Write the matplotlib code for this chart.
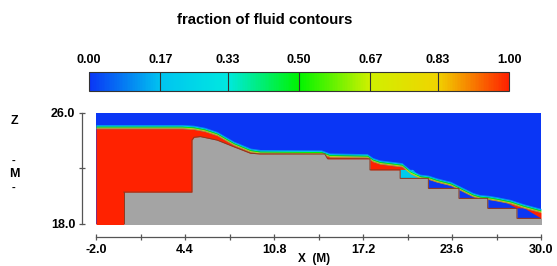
import numpy as np
import matplotlib
matplotlib.use("Agg")
import matplotlib.pyplot as plt
from matplotlib.colors import LinearSegmentedColormap, Normalize
from matplotlib.colorbar import ColorbarBase

plt.rcParams["font.family"] = ["Liberation Sans", "DejaVu Sans"]
plt.rcParams["font.weight"] = "bold"

# ---- data (metres) ----
# stepped spillway bed profile (gray solid below it)
bed_x = [0.0, 0.0, 4.9, 4.9, 5.05, 5.5, 6.7, 7.9, 9.1, 9.8, 14.45, 14.65,
         17.7, 17.7, 19.87, 19.87, 21.9, 21.9, 24.1, 24.1, 26.17, 26.17,
         28.27, 28.27, 30.0]
bed_z = [18.0, 20.3, 20.3, 24.05, 24.25, 24.3, 24.05, 23.57, 23.1, 23.05,
         23.05, 22.7, 22.7, 21.9, 21.9, 21.29, 21.29, 20.57, 20.57, 19.85,
         19.85, 19.13, 19.13, 18.41, 18.41]

# free surface (0.5 contour of fluid fraction)
surf_x = [-2.0, 4.2, 5.0, 5.8, 6.7, 7.9, 9.1, 9.8, 14.2, 14.8, 17.5, 17.9,
          18.4, 19.2, 20.0, 20.6, 21.3, 21.9, 22.5, 23.5, 24.4, 25.1, 25.6,
          26.2, 26.8, 27.8, 28.7, 30.0]
surf_z = [25.0, 25.0, 24.95, 24.8, 24.5, 23.8, 23.3, 23.2, 23.17, 22.95,
          22.9, 22.62, 22.45, 22.35, 22.25, 21.75, 21.42, 21.35, 21.15, 20.9,
          20.45, 20.1, 19.95, 19.9, 19.8, 19.6, 19.3, 18.95]

# air pockets trapped under the nappe on each step
pocket_x0 = [19.87, 21.9, 24.1, 26.17, 28.27]
pocket_x1 = [21.4, 24.1, 25.6, 28.27, 30.0]
pocket_x1_top = [20.8, 22.6, 24.4, 26.9, 28.8]
pocket_z0 = [21.29, 20.57, 19.85, 19.13, 18.41]
pocket_z1 = [21.9, 21.29, 20.57, 19.85, 19.13]
pocket_frac = [0.2, 0.0, 0.0, 0.0, 0.0]

cbar_ticks = [0.0, 0.17, 0.33, 0.50, 0.67, 0.83, 1.0]
cbar_labels = ["0.00", "0.17", "0.33", "0.50", "0.67", "0.83", "1.00"]
x_ticks = [-2.0, 1.2, 4.4, 7.6, 10.8, 14.0, 17.2, 20.4, 23.6, 26.8, 30.0]
x_labels = ["-2.0", "", "4.4", "", "10.8", "", "17.2", "", "23.6", "", "30.0"]
z_ticks = [18.0, 22.0, 26.0]
z_labels = ["18.0", "", "26.0"]

# tecplot-like rainbow
cmap = LinearSegmentedColormap.from_list("tec", [
    (0.0, "#0a36f5"), (0.17, "#00c4f0"), (0.33, "#00e8e0"),
    (0.5, "#00f400"), (0.67, "#d0f000"), (0.83, "#f0d400"),
    (1.0, "#ff2200")])
GRAY = "#a4a4a4"
AXC = "#555555"

W, H = 557, 266
fig = plt.figure(figsize=(W / 100, H / 100), dpi=100)

fig.text(265 / W, 1 - 20 / H, "fraction of fluid contours",
         ha="center", va="center", fontsize=10.7, fontweight="bold")

# ---- colour bar ----
cax = fig.add_axes([89 / W, 1 - 91 / H, 420 / W, 19 / H])
cb = ColorbarBase(cax, cmap=cmap, norm=Normalize(0, 1),
                  orientation="horizontal", ticks=cbar_ticks)
cb.ax.xaxis.set_ticks_position("top")
cb.ax.set_xticklabels(cbar_labels, fontsize=9, fontweight="bold")
cb.ax.tick_params(length=0, pad=4)
cb.outline.set_linewidth(0.8)
cb.outline.set_edgecolor("#333333")
for t in cbar_ticks[1:-1]:
    cax.axvline(t, color="#333333", lw=0.8)

# ---- main contour plot ----
ax = fig.add_axes([96 / W, 1 - 224 / H, 445 / W, 111 / H])
ax.set_xlim(-2, 30)
ax.set_ylim(18, 26)
ax.set_facecolor(cmap(0.0))
floor = 17.0  # below the view, clipped away

sx = np.array(surf_x)
sz = np.array(surf_z)
# fluid body below the interface band
band_edges = [0.17, 0.11, 0.05, -0.02, -0.08, -0.13]
band_levels = [0.12, 0.3, 0.5, 0.7, 0.88]
ax.fill_between(sx, sz + band_edges[-1], floor, color=cmap(1.0), lw=0)

for x0, x1, xt, z0, z1, f in zip(pocket_x0, pocket_x1, pocket_x1_top,
                                 pocket_z0, pocket_z1, pocket_frac):
    ax.fill([x0, x1, xt, x0], [z0, z0, z1, z1], color=cmap(f), lw=0)

for k, lev in enumerate(band_levels):
    ax.fill_between(sx, sz + band_edges[k], sz + band_edges[k + 1],
                    color=cmap(lev), lw=0)

gx = bed_x + [31.0]
gz = bed_z + [bed_z[-1]]
ax.fill_between(gx, gz, floor, color=GRAY, lw=0)
ax.plot(bed_x[1:], bed_z[1:], color="#8a3a22", lw=0.7,
        solid_joinstyle="round")
ax.plot(bed_x[:2], [floor, bed_z[1]], color="#8a3a22", lw=0.7)

for s in ["top", "right"]:
    ax.spines[s].set_visible(False)
ax.spines["left"].set_position(("outward", 10))
ax.spines["bottom"].set_position(("outward", 9.5))
for s in ["left", "bottom"]:
    ax.spines[s].set_color(AXC)
    ax.spines[s].set_linewidth(0.9)

ax.set_xticks(x_ticks)
ax.set_xticklabels(x_labels, fontsize=9, fontweight="bold")
ax.set_yticks(z_ticks)
ax.set_yticklabels(z_labels, fontsize=9, fontweight="bold")
ax.tick_params(direction="inout", length=5, width=0.9, color=AXC, pad=2.5)

fig.text(314 / W, 1 - 259 / H, "X  (M)", ha="center", va="center",
         fontsize=8.5, fontweight="bold")
fig.text(14 / W, 1 - 121 / H, "Z", ha="center", va="center",
         fontsize=9, fontweight="bold")
fig.text(14 / W, 1 - 161 / H, "-", ha="center", va="center",
         fontsize=8, fontweight="bold")
fig.text(14 / W, 1 - 174 / H, "M", ha="center", va="center",
         fontsize=9, fontweight="bold")
fig.text(14 / W, 1 - 188 / H, "-", ha="center", va="center",
         fontsize=8, fontweight="bold")

fig.savefig("out.png", dpi=100)
